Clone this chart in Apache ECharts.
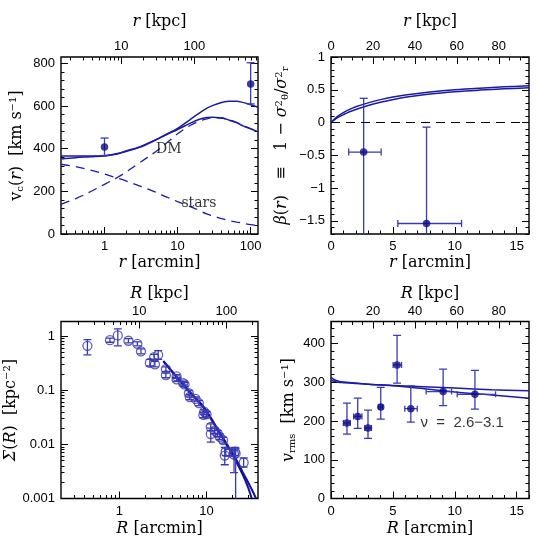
<!DOCTYPE html>
<html><head><meta charset="utf-8">
<script src="https://cdn.jsdelivr.net/npm/echarts@6/dist/echarts.min.js"></script>
<style>html,body{margin:0;padding:0;background:#fff}#c{width:558px;height:558px}</style>
</head><body><div id="c"></div>
<script>
// ---------------- DATA ----------------
const KPC_PER_ARCMIN = 5.9;

// Panel 1: circular velocity vs r (arcmin, log)
const p1R = [0.254, 0.4, 0.64, 1, 1.5, 2, 3, 5, 7, 10, 15, 20, 25, 30, 40, 50, 64, 80, 100, 126];
const p1TotalUpper = [366, 366, 366, 367, 377, 390, 408, 442, 468, 495, 538, 568, 589, 602, 617, 622, 623, 616, 606, 594];
const p1TotalLower = [352, 358, 362, 366, 375, 388, 406, 440, 465, 490, 520, 538, 546, 548, 544, 535, 522, 506, 493, 480];
const p1DM = [139, 165, 198, 233, 265, 292, 333, 386, 425, 470, 510, 530, 540, 545, 544, 536, 524, 508, 494, 480];
const p1Stars = [327, 316, 300, 281, 262, 248, 226, 196, 174, 152, 128, 110, 94, 86, 72, 63, 56, 50, 44, 40];
const p1ObsR = [1, 100];
const p1ObsV = [408, 703];
const p1ObsLo = [368, 610];
const p1ObsHi = [450, 803];
const p1Notes = [{ text: 'DM', r: 7.6, v: 396 }, { text: 'stars', r: 19.6, v: 143 }];

// Panel 2: anisotropy beta(r)
const p2R = [0, 0.25, 0.5, 1, 1.5, 2, 3, 4, 5, 6, 8, 10, 12, 14, 16];
const p2Upper = [0, 0.05, 0.09, 0.15, 0.2, 0.24, 0.3, 0.35, 0.39, 0.42, 0.465, 0.5, 0.525, 0.545, 0.56];
const p2Lower = [0, 0.035, 0.07, 0.12, 0.165, 0.2, 0.26, 0.31, 0.35, 0.385, 0.435, 0.47, 0.495, 0.515, 0.53];
const p2ObsR = [2.64, 7.72];
const p2ObsB = [-0.45, -1.54];
const p2ObsRLo = [1.43, 5.4];
const p2ObsRHi = [4.05, 10.55];
const p2ObsBLo = [-2.5, -2.5];
const p2ObsBHi = [0.37, -0.07];

// Panel 3: surface density Sigma(R)
const p3R =  [0.43, 0.78, 0.96, 1.27, 1.61, 1.77, 2.24, 2.51, 2.56, 2.79, 3.42, 3.42, 4.54, 4.54, 5.4, 5.6, 6.28, 6.43, 7.48, 8.17, 9.4, 9.2, 10, 11.2, 11.2, 12.4, 13.4, 14.2, 15.5, 16.6, 16.2, 18.5, 21.1, 20.7, 21.6, 26.7];
const p3S =  [0.66, 0.84, 1.03, 0.82, 0.72, 0.52, 0.32, 0.41, 0.30, 0.45, 0.245, 0.19, 0.158, 0.18, 0.135, 0.128, 0.088, 0.075, 0.069, 0.058, 0.040, 0.035, 0.036, 0.021, 0.0155, 0.018, 0.016, 0.0138, 0.012, 0.0073, 0.0062, 0.0071, 0.0073, 0.0065, 0.0068, 0.0046];
const p3Lo = [0.45, 0.77, 0.66, 0.75, 0.66, 0.47, 0.28, 0.36, 0.27, 0.37, 0.22, 0.17, 0.145, 0.165, 0.125, 0.118, 0.078, 0.067, 0.063, 0.052, 0.036, 0.031, 0.032, 0.018, 0.011, 0.016, 0.014, 0.0122, 0.0105, 0.0062, 0.0042, 0.0062, 0.0062, 0.003, 0.0002, 0.0038];
const p3Hi = [0.86, 0.92, 1.36, 0.9, 0.78, 0.58, 0.37, 0.46, 0.34, 0.54, 0.27, 0.21, 0.172, 0.195, 0.146, 0.138, 0.098, 0.083, 0.075, 0.064, 0.044, 0.039, 0.040, 0.024, 0.020, 0.020, 0.018, 0.0155, 0.0135, 0.0085, 0.0088, 0.0081, 0.0088, 0.0078, 0.0085, 0.0056];
const p3ModelAR = [3.2, 4.34, 6.5, 9.4, 13, 16.9, 21, 26.2, 30, 33];
const p3ModelA =  [0.34, 0.19, 0.089, 0.046, 0.020, 0.010, 0.0055, 0.0027, 0.0016, 0.001];
const p3ModelBR = [3.2, 4.34, 6.5, 9.4, 13, 16.9, 21, 26.2, 30, 34, 37];
const p3ModelB =  [0.35, 0.195, 0.092, 0.048, 0.021, 0.0105, 0.006, 0.003, 0.002, 0.00135, 0.001];

// Panel 4: v_rms(R)
const p4R =   [1.29, 2.16, 2.99, 4.02, 5.34, 6.45, 9.06, 11.63];
const p4V =   [195, 212, 182, 236, 345, 232, 276, 269];
const p4RLo = [1.0, 1.83, 2.73, 3.87, 5.02, 5.96, 7.69, 10.2];
const p4RHi = [1.56, 2.5, 3.27, 4.17, 5.7, 6.97, 9.74, 13.3];
const p4VLo = [166, 181, 155, 205, 298, 197, 240, 231];
const p4VHi = [246, 259, 228, 287, 421, 291, 334, 331];
const p4ModelR = [0, 0.3, 0.6, 1, 2, 3, 5, 7, 10, 13, 16];
const p4Upper = [313, 306, 303, 301, 298, 295, 292, 289, 285, 281, 278];
const p4Lower = [306, 302, 300, 299, 297, 295, 291, 285, 275, 267, 259];
const p4Note = { text: 'ν  =  2.6−3.1', r: 10.6, v: 196 };

// Tick labels
const p1XTicks = [1, 10, 100];
const p1TopTicks = [10, 100];
const p1YTicks = [0, 200, 400, 600, 800];
const linXTicks = [0, 5, 10, 15];
const linTopTicks = [0, 20, 40, 60, 80];
const p2YTicks = [-1.5, -1, -0.5, 0, 0.5, 1];
const p3XTicks = [1, 10];
const p3TopTicks = [10, 100];
const p3YTicks = [0.001, 0.01, 0.1, 1];
const p4YTicks = [0, 100, 200, 300, 400];

// ---------------- STYLE / HELPERS ----------------
const LINE = '#1b1ba8';
const PT = '#0b0b8a';
const ERR = '#3a3ab4';
const TICK_FONT = 'Liberation Sans, Arial, sans-serif';
const TITLE_FONT = 'DejaVu Serif, serif';

function fmt(v) { return String(+(+v).toPrecision(6)).replace('-', '\u2212'); }
function logMinors(min, max) {
  const out = [];
  for (let e = -4; e <= 4; e++) for (let m = 1; m <= 9; m++) {
    const v = +(m * Math.pow(10, e)).toPrecision(6);
    if (v > min && v < max) out.push(v);
  }
  return out;
}
function linMinors(min, max, step) {
  const out = [];
  for (let i = Math.ceil(min / step - 1e-9); i <= Math.floor(max / step + 1e-9); i++) out.push(+(i * step).toFixed(6));
  return out;
}
const richStyles = {
  i: { fontStyle: 'italic', fontFamily: TITLE_FONT, fontSize: 16, color: '#000' },
  s: { fontFamily: TITLE_FONT, fontSize: 10, color: '#000', verticalAlign: 'bottom', padding: [6, 0, 0, 0] },
  p: { fontFamily: TITLE_FONT, fontSize: 10, color: '#000', verticalAlign: 'top', padding: [0, 0, 6, 0] }
};
function nameStyle() { return { fontFamily: TITLE_FONT, fontSize: 16, color: '#000', rich: richStyles }; }

function axis(grid, type, min, max, pos, ticks, len, labels, name, gap, lmargin) {
  const a = {
    type: type, gridIndex: grid, position: pos, min: min, max: max,
    axisLine: { show: false, onZero: false }, splitLine: { show: false }, minorTick: { show: false },
    axisTick: { show: true, inside: true, length: len, customValues: ticks, lineStyle: { color: '#000', width: 1 } },
    axisLabel: labels ? { show: true, customValues: labels, formatter: fmt, margin: lmargin || 6, color: '#000', fontFamily: TICK_FONT, fontSize: 13 } : { show: false },
    silent: true
  };
  if (type === 'log') a.logBase = 10;
  if (name) { a.name = name; a.nameLocation = 'middle'; a.nameGap = gap; a.nameTextStyle = nameStyle(); }
  return a;
}

const MAJ = 7, MIN = 3.5;
const xAxes = [], yAxes = [];
// Panel 1
{
  const g = 0, x0 = 0.254, x1 = 126, y0 = 0, y1 = 830, k = KPC_PER_ARCMIN;
  xAxes.push(axis(g, 'log', x0, x1, 'bottom', p1XTicks, MAJ, p1XTicks, '{i|r} [arcmin]', 21));
  xAxes.push(axis(g, 'log', x0, x1, 'bottom', logMinors(x0, x1), MIN, null));
  xAxes.push(axis(g, 'log', x0 * k, x1 * k, 'top', p1TopTicks, MAJ, p1TopTicks, '{i|r} [kpc]', 27, 4));
  xAxes.push(axis(g, 'log', x0 * k, x1 * k, 'top', logMinors(x0 * k, x1 * k), MIN, null));
  yAxes.push(axis(g, 'value', y0, y1, 'left', p1YTicks, MAJ, p1YTicks, 'v{s|c}({i|r})  [km s\u207B\u00B9]', 36));
  yAxes.push(axis(g, 'value', y0, y1, 'left', linMinors(y0, y1, 40), MIN, null));
  yAxes.push(axis(g, 'value', y0, y1, 'right', p1YTicks, MAJ, null));
  yAxes.push(axis(g, 'value', y0, y1, 'right', linMinors(y0, y1, 40), MIN, null));
}
// Panel 2
{
  const g = 1, x0 = 0, x1 = 16, y0 = -1.7, y1 = 1, k = KPC_PER_ARCMIN;
  xAxes.push(axis(g, 'value', x0, x1, 'bottom', linXTicks, MAJ, linXTicks, '{i|r} [arcmin]', 21));
  xAxes.push(axis(g, 'value', x0, x1, 'bottom', linMinors(x0, x1, 1), MIN, null));
  xAxes.push(axis(g, 'value', x0 * k, x1 * k, 'top', linTopTicks, MAJ, linTopTicks, '{i|r} [kpc]', 27, 4));
  xAxes.push(axis(g, 'value', x0 * k, x1 * k, 'top', linMinors(x0 * k, x1 * k, 5), MIN, null));
  yAxes.push(axis(g, 'value', y0, y1, 'left', p2YTicks, MAJ, p2YTicks, '{i|β}({i|r})   \u2261   1 \u2212 {i|σ}{p|2}{s|θ}/{i|σ}{p|2}{s|r}', 41));
  yAxes.push(axis(g, 'value', y0, y1, 'left', linMinors(y0, y1, 0.1), MIN, null));
  yAxes.push(axis(g, 'value', y0, y1, 'right', p2YTicks, MAJ, null));
  yAxes.push(axis(g, 'value', y0, y1, 'right', linMinors(y0, y1, 0.1), MIN, null));
}
// Panel 3
{
  const g = 2, x0 = 0.214, x1 = 39, y0 = 0.001, y1 = 1.86, k = KPC_PER_ARCMIN;
  xAxes.push(axis(g, 'log', x0, x1, 'bottom', p3XTicks, MAJ, p3XTicks, '{i|R} [arcmin]', 22.5));
  xAxes.push(axis(g, 'log', x0, x1, 'bottom', logMinors(x0, x1), MIN, null));
  xAxes.push(axis(g, 'log', x0 * k, x1 * k, 'top', p3TopTicks, MAJ, p3TopTicks, '{i|R} [kpc]', 19.5, 4));
  xAxes.push(axis(g, 'log', x0 * k, x1 * k, 'top', logMinors(x0 * k, x1 * k), MIN, null));
  yAxes.push(axis(g, 'log', y0, y1, 'left', p3YTicks, MAJ, p3YTicks, '{i|Σ}({i|R})  [kpc\u207B\u00B2]', 41));
  yAxes.push(axis(g, 'log', y0, y1, 'left', logMinors(y0, y1), MIN, null));
  yAxes.push(axis(g, 'log', y0, y1, 'right', p3YTicks, MAJ, null));
  yAxes.push(axis(g, 'log', y0, y1, 'right', logMinors(y0, y1), MIN, null));
}
// Panel 4
{
  const g = 3, x0 = 0, x1 = 16, y0 = 0, y1 = 457, k = KPC_PER_ARCMIN;
  xAxes.push(axis(g, 'value', x0, x1, 'bottom', linXTicks, MAJ, linXTicks, '{i|R} [arcmin]', 22.5));
  xAxes.push(axis(g, 'value', x0, x1, 'bottom', linMinors(x0, x1, 1), MIN, null));
  xAxes.push(axis(g, 'value', x0 * k, x1 * k, 'top', linTopTicks, MAJ, linTopTicks, '{i|R} [kpc]', 19.5, 4));
  xAxes.push(axis(g, 'value', x0 * k, x1 * k, 'top', linMinors(x0 * k, x1 * k, 5), MIN, null));
  yAxes.push(axis(g, 'value', y0, y1, 'left', p4YTicks, MAJ, p4YTicks, '{i|v}{s|rms}  [km s\u207B\u00B9]', 34));
  yAxes.push(axis(g, 'value', y0, y1, 'left', linMinors(y0, y1, 20), MIN, null));
  yAxes.push(axis(g, 'value', y0, y1, 'right', p4YTicks, MAJ, null));
  yAxes.push(axis(g, 'value', y0, y1, 'right', linMinors(y0, y1, 20), MIN, null));
}

function zip(a, b) { return a.map((v, i) => [v, b[i]]); }
function lineSeries(g, xs, ys, dashed, width, color) {
  return {
    type: 'line', xAxisIndex: 4 * g, yAxisIndex: 4 * g, data: zip(xs, ys),
    showSymbol: false, smooth: 0.35, silent: true, z: 2, clip: true,
    lineStyle: { color: color || LINE, width: width || 1.5, type: dashed ? [9, 6] : 'solid' }
  };
}
// rows: [x, y, ylo, yhi, xlo, xhi]
function errSeries(g, rows, cap, xcap) {
  return {
    type: 'custom', xAxisIndex: 4 * g, yAxisIndex: 4 * g, clip: true, silent: true, z: 3,
    data: rows, encode: { x: 0, y: 1 },
    renderItem: function (params, api) {
      const x = api.value(0), y = api.value(1);
      const c = api.coord([x, y]);
      const lo = api.coord([x, api.value(2)]), hi = api.coord([x, api.value(3)]);
      const st = { stroke: ERR, lineWidth: 1.3 };
      const ch = [
        { type: 'line', shape: { x1: c[0], y1: lo[1], x2: c[0], y2: hi[1] }, style: st },
        { type: 'line', shape: { x1: c[0] - cap, y1: lo[1], x2: c[0] + cap, y2: lo[1] }, style: st },
        { type: 'line', shape: { x1: c[0] - cap, y1: hi[1], x2: c[0] + cap, y2: hi[1] }, style: st }
      ];
      const xl = api.value(4), xh = api.value(5);
      if (isFinite(xl) && isFinite(xh) && xl !== xh) {
        const l = api.coord([xl, y]), h = api.coord([xh, y]);
        ch.push({ type: 'line', shape: { x1: l[0], y1: c[1], x2: h[0], y2: c[1] }, style: st });
        ch.push({ type: 'line', shape: { x1: l[0], y1: c[1] - xcap, x2: l[0], y2: c[1] + xcap }, style: st });
        ch.push({ type: 'line', shape: { x1: h[0], y1: c[1] - xcap, x2: h[0], y2: c[1] + xcap }, style: st });
      }
      return { type: 'group', children: ch };
    }
  };
}
function pointSeries(g, xs, ys, open) {
  return {
    type: 'scatter', xAxisIndex: 4 * g, yAxisIndex: 4 * g, data: zip(xs, ys), silent: true, z: 4,
    symbol: 'circle', symbolSize: open ? 9 : 7.5,
    itemStyle: open ? { color: 'rgba(255,255,255,0)', borderColor: ERR, borderWidth: 1.3 } : { color: PT }
  };
}
function noteSeries(g, notes, size, font) {
  return {
    type: 'scatter', xAxisIndex: 4 * g, yAxisIndex: 4 * g, silent: true, z: 5, symbolSize: 0,
    itemStyle: { color: 'rgba(0,0,0,0)' },
    data: notes.map(n => ({ value: [n.r, n.v], name: n.text })),
    label: { show: true, position: 'inside', formatter: '{b}', color: '#000', fontFamily: font, fontSize: size }
  };
}

const series = [
  // Panel 1
  lineSeries(0, p1R, p1TotalUpper, false),
  lineSeries(0, p1R, p1TotalLower, false),
  lineSeries(0, p1R, p1DM, true, 1.3),
  lineSeries(0, p1R, p1Stars, true, 1.3),
  errSeries(0, p1ObsR.map((r, i) => [r, p1ObsV[i], p1ObsLo[i], p1ObsHi[i], null, null]), 4, 3),
  pointSeries(0, p1ObsR, p1ObsV, false),
  noteSeries(0, p1Notes, 14, TITLE_FONT),
  // Panel 2
  Object.assign(lineSeries(1, p2R, p2Upper, false), {
    markLine: { symbol: 'none', silent: true, label: { show: false }, data: [{ yAxis: 0 }],
      lineStyle: { color: '#000', width: 1.2, type: [9, 6] } }
  }),
  lineSeries(1, p2R, p2Lower, false),
  errSeries(1, p2ObsR.map((r, i) => [r, p2ObsB[i], p2ObsBLo[i], p2ObsBHi[i], p2ObsRLo[i], p2ObsRHi[i]]), 4, 3.5),
  pointSeries(1, p2ObsR, p2ObsB, false),
  // Panel 3
  lineSeries(2, p3ModelAR, p3ModelA, false, 2, '#12129c'),
  lineSeries(2, p3ModelBR, p3ModelB, false, 2, '#12129c'),
  errSeries(2, p3R.map((r, i) => [r, p3S[i], p3Lo[i], p3Hi[i], null, null]), 4, 3),
  pointSeries(2, p3R, p3S, true),
  // Panel 4
  lineSeries(3, p4ModelR, p4Upper, false),
  lineSeries(3, p4ModelR, p4Lower, false),
  errSeries(3, p4R.map((r, i) => [r, p4V[i], p4VLo[i], p4VHi[i], p4RLo[i], p4RHi[i]]), 4, 3),
  pointSeries(3, p4R, p4V, false),
  noteSeries(3, [p4Note], 15, TICK_FONT)
];

const gridBase = { show: true, borderColor: '#000', borderWidth: 1.4, backgroundColor: 'rgba(0,0,0,0)', containLabel: false };
const chart = echarts.init(document.getElementById('c'), null, { renderer: 'canvas' });
chart.setOption({
  animation: false,
  backgroundColor: '#fff',
  grid: [
    Object.assign({ left: 61, top: 57, width: 197, height: 177 }, gridBase),
    Object.assign({ left: 331, top: 57, width: 198, height: 177 }, gridBase),
    Object.assign({ left: 61, top: 321.5, width: 197, height: 177 }, gridBase),
    Object.assign({ left: 331, top: 321.5, width: 198, height: 177 }, gridBase)
  ],
  xAxis: xAxes,
  yAxis: yAxes,
  series: series
});
</script>
</body></html>
